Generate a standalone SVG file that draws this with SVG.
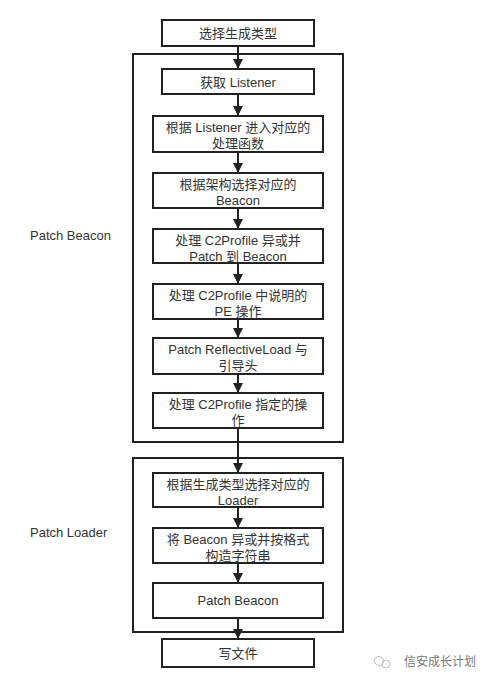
<svg xmlns="http://www.w3.org/2000/svg" width="492" height="687" viewBox="0 0 492 687">
<style>
.box{fill:#fff;stroke:#222;stroke-width:2}
.grp{fill:none;stroke:#222;stroke-width:2}
.t{font-family:"Liberation Sans","Noto Sans CJK SC",sans-serif;font-size:13px;fill:#333;text-anchor:middle}
.lbl{font-family:"Liberation Sans","Noto Sans CJK SC",sans-serif;font-size:13px;fill:#333}
.c{stroke:#222;stroke-width:2;fill:none}
</style>
<defs>
<marker id="ah" viewBox="0 0 10 10" refX="10" refY="5" markerWidth="5" markerHeight="5" orient="auto" markerUnits="strokeWidth">
<path d="M0,0 L10,5 L0,10 z" fill="#222"/>
</marker>
</defs>
<rect width="492" height="687" fill="#fff"/>
<g id="group-patch-beacon">
<rect class="grp" x="133" y="54" width="210" height="388"/>
<text class="lbl" x="30" y="240">Patch Beacon</text>
</g>
<g id="group-patch-loader">
<rect class="grp" x="133" y="458" width="210" height="174"/>
<text class="lbl" x="30" y="537">Patch Loader</text>
</g>
<g id="connectors">
<line class="c" x1="238" y1="46" x2="238" y2="69" marker-end="url(#ah)"/>
<line class="c" x1="238" y1="94" x2="238" y2="116" marker-end="url(#ah)"/>
<line class="c" x1="238" y1="152" x2="238" y2="173" marker-end="url(#ah)"/>
<line class="c" x1="238" y1="208" x2="238" y2="229" marker-end="url(#ah)"/>
<line class="c" x1="238" y1="263" x2="238" y2="284" marker-end="url(#ah)"/>
<line class="c" x1="238" y1="319" x2="238" y2="338" marker-end="url(#ah)"/>
<line class="c" x1="238" y1="374" x2="238" y2="393" marker-end="url(#ah)"/>
<line class="c" x1="238" y1="428" x2="238" y2="473" marker-end="url(#ah)"/>
<line class="c" x1="238" y1="507" x2="238" y2="528" marker-end="url(#ah)"/>
<line class="c" x1="238" y1="563" x2="238" y2="583" marker-end="url(#ah)"/>
<line class="c" x1="238" y1="618" x2="238" y2="639" marker-end="url(#ah)"/>
</g>
<g id="n-start">
<rect class="box" x="162" y="20" width="152" height="26"/>
<text class="t" x="238" y="38">选择生成类型</text>
</g>
<g id="n-listener">
<rect class="box" x="162" y="69" width="152" height="25"/>
<text class="t" x="238" y="86.5">获取 Listener</text>
</g>
<g id="n-handler">
<rect class="box" x="153" y="116" width="170" height="36"/>
<text class="t" x="238" y="132">根据 Listener 进入对应的</text>
<text class="t" x="238" y="148">处理函数</text>
</g>
<g id="n-arch">
<rect class="box" x="153" y="173" width="170" height="35"/>
<text class="t" x="238" y="189">根据架构选择对应的</text>
<text class="t" x="238" y="205">Beacon</text>
</g>
<g id="n-xor">
<rect class="box" x="153" y="229" width="170" height="34"/>
<text class="t" x="238" y="245">处理 C2Profile 异或并</text>
<text class="t" x="238" y="261">Patch 到 Beacon</text>
</g>
<g id="n-pe">
<rect class="box" x="153" y="284" width="170" height="35"/>
<text class="t" x="238" y="300">处理 C2Profile 中说明的</text>
<text class="t" x="238" y="316">PE 操作</text>
</g>
<g id="n-reflective">
<rect class="box" x="153" y="338" width="170" height="36"/>
<text class="t" x="238" y="354">Patch ReflectiveLoad 与</text>
<text class="t" x="238" y="370">引导头</text>
</g>
<g id="n-ops">
<rect class="box" x="153" y="393" width="170" height="35"/>
<text class="t" x="238" y="409">处理 C2Profile 指定的操</text>
<text class="t" x="238" y="425">作</text>
</g>
<g id="n-loader">
<rect class="box" x="153" y="473" width="170" height="34"/>
<text class="t" x="238" y="489">根据生成类型选择对应的</text>
<text class="t" x="238" y="505">Loader</text>
</g>
<g id="n-string">
<rect class="box" x="153" y="528" width="170" height="35"/>
<text class="t" x="238" y="544">将 Beacon 异或并按格式</text>
<text class="t" x="238" y="560">构造字符串</text>
</g>
<g id="n-patch-beacon">
<rect class="box" x="153" y="583" width="170" height="35"/>
<text class="t" x="238" y="605">Patch Beacon</text>
</g>
<g id="n-write">
<rect class="box" x="162" y="639" width="152" height="28"/>
<text class="t" x="238" y="658">写文件</text>
</g>
<g id="watermark">
<circle cx="379" cy="661" r="4.5" fill="none" stroke="#bbb" stroke-width="1"/>
<circle cx="386" cy="664" r="4" fill="none" stroke="#bbb" stroke-width="1"/>
<text x="404" y="666" font-family="Liberation Sans,'Noto Sans CJK SC',sans-serif" font-size="12" fill="#777">信安成长计划</text>
</g>
</svg>
